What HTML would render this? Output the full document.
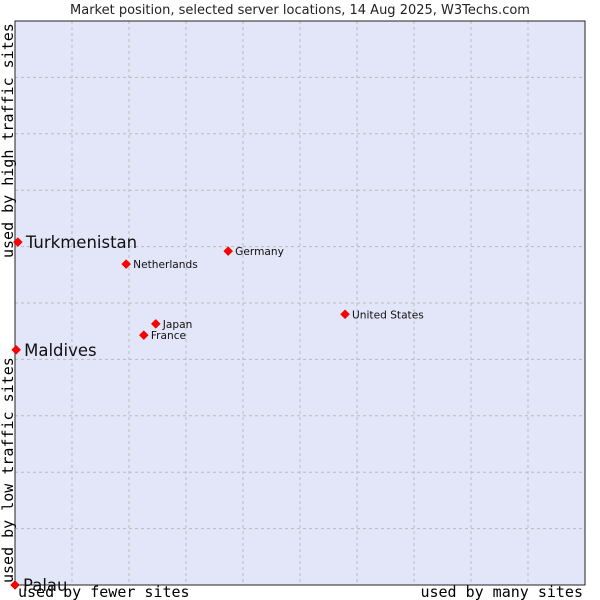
<!DOCTYPE html>
<html><head><meta charset="utf-8"><style>
body{margin:0;background:#fff;}
svg{display:block;font-family:"DejaVu Sans","Liberation Sans",sans-serif;}
</style></head><body>
<svg id="chart" width="600" height="600">
<text x="300" y="14" text-anchor="middle" font-size="13" fill="#222">Market position, selected server locations, 14 Aug 2025, W3Techs.com</text>
<rect x="15" y="21" width="570" height="564" fill="#e3e5f8"/>
<g id="grid"></g>
<rect x="15" y="21" width="570" height="564" fill="none" stroke="#222" stroke-width="1"/>
<text x="0" y="0" transform="translate(13,583) rotate(-90)" font-family="DejaVu Sans Mono,Liberation Mono,monospace" font-size="15" fill="#000">used by low traffic sites</text>
<text x="0" y="0" transform="translate(13,258) rotate(-90)" font-family="DejaVu Sans Mono,Liberation Mono,monospace" font-size="15" fill="#000">used by high traffic sites</text>
<text x="18" y="597" font-family="DejaVu Sans Mono,Liberation Mono,monospace" font-size="15" fill="#000">used by fewer sites</text>
<text x="583" y="597" text-anchor="end" font-family="DejaVu Sans Mono,Liberation Mono,monospace" font-size="15" fill="#000">used by many sites</text>
<g id="points"></g>
</svg>
<script>
const names = ["Turkmenistan","Maldives","Palau","Netherlands","Germany","Japan","France","United States"];
const xVals = [0.5,0.2,0,19.5,37.4,24.7,22.6,57.9];
const yVals = [60.8,41.7,0,56.9,59.2,46.3,44.3,48.0];
const bigLabel = [true,true,true,false,false,false,false,false];
const NS="http://www.w3.org/2000/svg";
const L=15,R=585,T=21,B=585;
function sx(v){return L+v/100*(R-L);}
function sy(v){return B-v/100*(B-T);}
const grid=document.getElementById('grid');
for(let i=1;i<10;i++){
  const gx=document.createElementNS(NS,'line');
  const x=L+i*(R-L)/10;
  gx.setAttribute('x1',x);gx.setAttribute('x2',x);gx.setAttribute('y1',T);gx.setAttribute('y2',B);
  gx.setAttribute('stroke','#bbb');gx.setAttribute('stroke-dasharray','3,3');
  
  
  grid.appendChild(gx);
  const gy=document.createElementNS(NS,'line');
  const y=T+i*(B-T)/10;
  gy.setAttribute('x1',L);gy.setAttribute('x2',R);gy.setAttribute('y1',y);gy.setAttribute('y2',y);
  gy.setAttribute('stroke','#bbb');gy.setAttribute('stroke-dasharray','3,3');
  
  
  grid.appendChild(gy);
}
const pts=document.getElementById('points');
names.forEach((n,i)=>{
  const x=sx(xVals[i]),y=sy(yVals[i]);
  const d=document.createElementNS(NS,'path');
  d.setAttribute('d',`M${x} ${y-4.5}L${x+4.5} ${y}L${x} ${y+4.5}L${x-4.5} ${y}Z`);
  d.setAttribute('fill','#f00');d.setAttribute('stroke','#c00');d.setAttribute('stroke-width','0.5');
  
  
  pts.appendChild(d);
  const t=document.createElementNS(NS,'text');
  t.setAttribute('x',x+(bigLabel[i]?8:7));
  t.setAttribute('y',y+(bigLabel[i]?6:4));
  t.setAttribute('font-size',bigLabel[i]?'16.5':'10.6');
  t.setAttribute('fill','#111');
  t.textContent=n;
  
  
  pts.appendChild(t);
});
</script>
</body></html>
